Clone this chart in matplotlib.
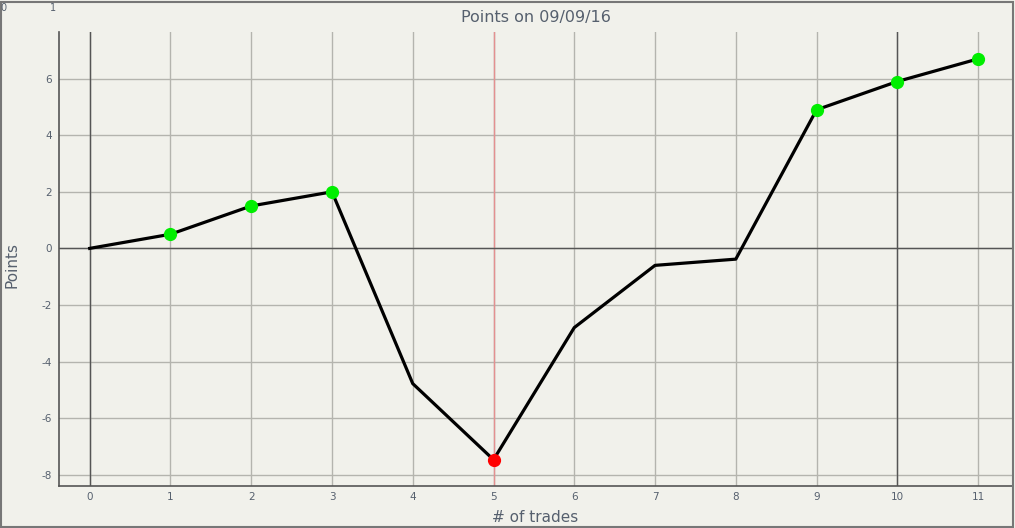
import matplotlib
matplotlib.use("Agg")
import matplotlib.pyplot as plt
from matplotlib.patches import Rectangle

plt.rcParams["axes.unicode_minus"] = False

trades = [0, 1, 2, 3, 4, 5, 6, 7, 8, 9, 10, 11]
points = [0.0, 0.5, 1.5, 2.0, -4.78, -7.47, -2.8, -0.6, -0.38, 4.9, 5.9, 6.7]
marker_idx_green = [1, 2, 3, 9, 10, 11]
marker_idx_red = [5]
xticks = list(range(12))
yticks = [-8, -6, -4, -2, 0, 2, 4, 6]

bg = "#f1f1eb"
txt = "#56606e"

fig = plt.figure(figsize=(10.15, 5.28), dpi=100, facecolor=bg)
ax = fig.add_axes([59/1015, (528-486)/528, (1012-59)/1015, (486-32)/528], facecolor=bg)

ax.set_xlim(-0.38, 11.42)
ax.set_ylim(-8.4, 7.65)
ax.set_xticks(xticks)
ax.set_yticks(yticks)
ax.grid(True, color="#b4b4ae", linewidth=1.0)
ax.set_axisbelow(True)
ax.axvline(0, color="#555555", linewidth=1.0, zorder=1)
ax.axvline(10, color="#555555", linewidth=1.0, zorder=1)
ax.axvline(5, color="#e49090", linewidth=1.0, zorder=1)
ax.axhline(0, color="#555555", linewidth=1.0, zorder=1)

ax.plot(trades, points, color="black", linewidth=2.3, zorder=3)
ax.plot([trades[i] for i in marker_idx_green], [points[i] for i in marker_idx_green],
        linestyle="none", marker="o", markersize=8.5, color="#00ee00", zorder=4)
ax.plot([trades[i] for i in marker_idx_red], [points[i] for i in marker_idx_red],
        linestyle="none", marker="o", markersize=8.5, color="#ff0000", zorder=4)

for s in ["top", "right"]:
    ax.spines[s].set_visible(False)
for s in ["left", "bottom"]:
    ax.spines[s].set_color("#555555")
    ax.spines[s].set_linewidth(1.2)
ax.tick_params(axis="x", length=0, labelsize=7.5, labelcolor=txt, pad=4)
ax.tick_params(axis="y", length=0, labelsize=7.5, labelcolor=txt, pad=5)

ax.set_title("Points on 09/09/16", fontsize=11.5, color=txt, pad=7)
ax.set_xlabel("# of trades", fontsize=11, color=txt)
ax.xaxis.set_label_coords(0.5, -(517 - 486) / 454, transform=ax.transAxes)
ax.xaxis.label.set_va("center")
ax.set_ylabel("Points", fontsize=11, color=txt)
ax.yaxis.set_label_coords(-(59 - 12) / 953, (486 - 265) / 454, transform=ax.transAxes)
ax.yaxis.label.set_va("center")

fig.text(0.0, 1 - 8/528, "0", fontsize=7, color=txt, va="center", ha="left")
fig.text(50/1015, 1 - 8/528, "1", fontsize=7, color=txt, va="center", ha="left")
fig.add_artist(Rectangle((0.001, 0.002), 0.997, 0.995, transform=fig.transFigure,
                         fill=False, edgecolor="#777777", linewidth=1.5))

fig.savefig("out.png", dpi=100, facecolor=bg)
